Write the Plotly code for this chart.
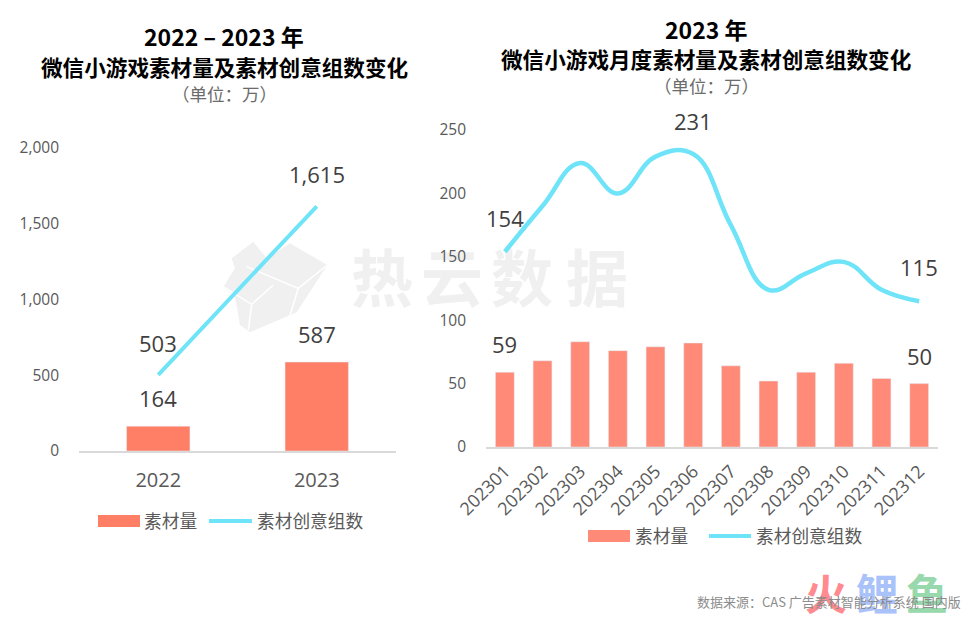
import plotly.graph_objects as go

W, H = 972, 621
FONT = "Open Sans, Noto Sans CJK SC, sans-serif"
CJK = "Noto Sans CJK SC, sans-serif"

years = ["2022", "2023"]
year_material = [164, 587]
year_groups = [503, 1615]

months = ["202301", "202302", "202303", "202304", "202305", "202306",
          "202307", "202308", "202309", "202310", "202311", "202312"]
month_material = [59, 68, 83, 76, 79, 82, 64, 52, 59, 66, 54, 50]
month_groups = [154, 190, 224, 200, 229, 231, 175, 124, 137, 146, 124, 115]

BAR_L, BAR_R, LINE = "#FF7F66", "#FF8A78", "#6FE4F8"


def px(x):
    return x / W


def py(y):
    return 1 - y / H


fig = go.Figure()
fig.add_trace(go.Bar(x=years, y=year_material, marker_color=BAR_L, width=0.4,
                     xaxis="x", yaxis="y", name="素材量", showlegend=False))
fig.add_trace(go.Scatter(x=years, y=year_groups, mode="lines", xaxis="x", yaxis="y",
                         line=dict(color=LINE, width=4), name="素材创意组数", showlegend=False))
fig.add_trace(go.Bar(x=months, y=month_material, marker_color=BAR_R, width=0.5,
                     xaxis="x2", yaxis="y2", name="素材量", showlegend=False))
fig.add_trace(go.Scatter(x=months, y=month_groups, mode="lines", xaxis="x2", yaxis="y2",
                         line=dict(color=LINE, width=4.5, shape="spline", smoothing=1.2),
                         name="素材创意组数", showlegend=False))

ann = []


def text(x, y, s, size, color="#404040", bold=False, font=CJK, xanchor="center"):
    ann.append(dict(xref="paper", yref="paper", x=px(x), y=py(y), text=f"<b>{s}</b>" if bold else s,
                    showarrow=False, xanchor=xanchor, yanchor="middle",
                    font=dict(size=size, color=color, family=font)))


def label(xa, ya, i, y, s, shift):
    ann.append(dict(xref=xa, yref=ya, x=i, y=y, text=s, showarrow=False, yshift=shift,
                    xanchor="center", yanchor="middle",
                    font=dict(size=22, color="#404040", family=FONT)))


text(224, 36, "2022 – 2023 年", 23, "#000000", True)
text(224, 66, "微信小游戏素材量及素材创意组数变化", 21.6, "#000000", True)
text(224, 93, "（单位：万）", 17.5, "#6b6b6b")
text(706, 29, "2023 年", 23, "#000000", True)
text(706, 59, "微信小游戏月度素材量及素材创意组数变化", 21.6, "#000000", True)
text(706, 86, "（单位：万）", 17.5, "#6b6b6b")

label("x", "y", 0, year_material[0], f"{year_material[0]:,}", 28)
label("x", "y", 1, year_material[1], f"{year_material[1]:,}", 28)
label("x", "y", 0, year_groups[0], f"{year_groups[0]:,}", 32)
label("x", "y", 1, year_groups[1], f"{year_groups[1]:,}", 32)
label("x2", "y2", 0, month_material[0], str(month_material[0]), 28)
label("x2", "y2", 11, month_material[-1], str(month_material[-1]), 28)
label("x2", "y2", 0, month_groups[0], "154", 34)
label("x2", "y2", 5, month_groups[5], "231", 33)
label("x2", "y2", 11, month_groups[-1], "115", 34)

# hand-built legends
text(142, 520, "素材量", 17.7, "#595959", xanchor="left")
text(255, 520, "素材创意组数", 17.7, "#595959", xanchor="left")
text(633, 535, "素材量", 17.7, "#595959", xanchor="left")
text(754, 535, "素材创意组数", 17.7, "#595959", xanchor="left")

shapes = []


def rect(x0, y0, x1, y1, color):
    shapes.append(dict(type="rect", xref="paper", yref="paper", x0=px(x0), x1=px(x1),
                       y0=py(y0), y1=py(y1), fillcolor=color, line_width=0))


def lseg(x0, x1, y):
    shapes.append(dict(type="line", xref="paper", yref="paper", x0=px(x0), x1=px(x1),
                       y0=py(y), y1=py(y), line=dict(color=LINE, width=4)))


rect(98, 515, 140, 527, BAR_L)
lseg(209, 252, 521)
rect(588, 530, 630, 542, BAR_R)
lseg(709, 751, 536)


def poly(points, color, layer="below"):
    d = "M" + " L".join(f"{px(a):.5f},{py(b):.5f}" for a, b in points) + " Z"
    shapes.append(dict(type="path", xref="paper", yref="paper", path=d, fillcolor=color,
                       line_width=0, layer=layer))


def ox(a):
    return 210 + a / 3


def oy(b):
    return 225 + b / 3


logo = [(130, 50), (65, 100), (75, 130), (40, 185), (75, 215), (90, 300), (120, 322),
        (260, 262), (352, 120), (240, 55), (170, 100)]
poly([(ox(a), oy(b)) for a, b in logo], "#F0F0F0")
for seg in ([(110, 125), (265, 190), (352, 120)], [(40, 185), (125, 238), (190, 180)],
            [(265, 190), (240, 270)], [(125, 238), (115, 315)]):
    pts = [(ox(a), oy(b)) for a, b in seg]
    d = "M" + " L".join(f"{px(a):.5f},{py(b):.5f}" for a, b in pts)
    shapes.append(dict(type="path", xref="paper", yref="paper", path=d, layer="below",
                       line=dict(color="#FFFFFF", width=1.5)))


def wm(x, y, s, size, color):
    shapes.append(dict(type="rect", xref="paper", yref="paper", layer="below",
                       x0=px(x - 50), x1=px(x + 50), y0=py(y + 50), y1=py(y - 50),
                       line_width=0, fillcolor="rgba(0,0,0,0)",
                       label=dict(text=f"<b>{s}</b>", textposition="middle center",
                                  font=dict(size=size, color=color, family=CJK))))


for cx, ch in zip([382, 452, 522, 597], "热云数据"):
    wm(cx, 285, ch, 62, "#F0F0F0")
wm(826, 598, "火", 42, "#FF8A90")
wm(877, 598, "鲤", 42, "#A9C2FA")
wm(927, 598, "鱼", 42, "#97D8AC")

text(963, 601, "数据来源：CAS 广告素材智能分析系统 国内版", 13, "#8c8c8c", xanchor="right")

axis_x = dict(type="category", automargin=False, showgrid=False, zeroline=False, showline=True,
              linecolor="#D9D9D9", linewidth=1.5, ticks="", color="#595959")
axis_y = dict(automargin=False, showgrid=False, zeroline=False, showline=False, ticks="", color="#595959",
              tickfont=dict(size=15.5, family=FONT, color="#595959"), ticklabelstandoff=19)

fig.update_layout(
    width=W, height=H, autosize=False, margin=dict(l=0, r=0, t=0, b=0, autoexpand=False),
    paper_bgcolor="white", plot_bgcolor="rgba(0,0,0,0)", showlegend=False, barmode="overlay",
    font=dict(family=FONT),
    xaxis=dict(axis_x, domain=[px(79), px(396)], range=[-0.5, 1.5], anchor="y",
               tickfont=dict(size=20, family=FONT, color="#595959"), ticklabelstandoff=10),
    yaxis=dict(axis_y, domain=[py(451), py(148)], range=[0, 2000], anchor="x",
               tickvals=[0, 500, 1000, 1500, 2000], tickformat=","),
    xaxis2=dict(axis_x, domain=[px(486), px(938)], range=[-0.5, 11.5], anchor="y2", tickangle=-45,
                tickfont=dict(size=18, family=FONT, color="#595959"), ticklabelstandoff=5),
    yaxis2=dict(axis_y, domain=[py(447), py(130)], range=[0, 250], anchor="x2",
                tickvals=[0, 50, 100, 150, 200, 250]),
    annotations=ann, shapes=shapes,
)
fig.write_html("out.html", post_script="document.body.style.margin='0';",
               config=dict(displayModeBar=False))
